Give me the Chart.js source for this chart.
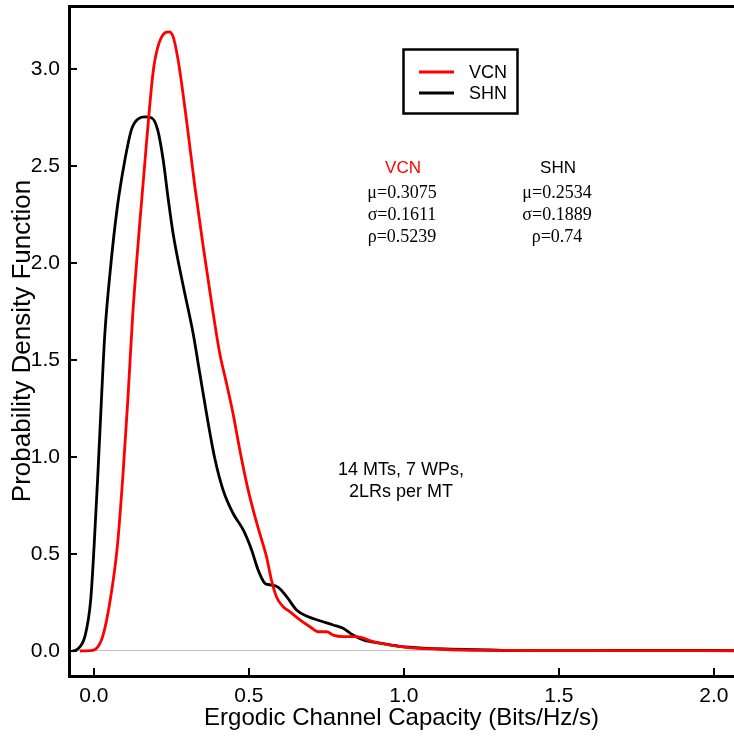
<!DOCTYPE html>
<html>
<head>
<meta charset="utf-8">
<script src="https://cdn.jsdelivr.net/npm/chart.js@4.4.1/dist/chart.umd.min.js"></script>
<style>
  html, body { margin: 0; padding: 0; background: #fff; }
  #chart { display: block; }
</style>
</head>
<body>
<canvas id="chart" width="734" height="738"></canvas>
<script>
const seriesNames = ['VCN', 'SHN'];
const seriesColors = ['#ff0000', '#000000'];

// VCN curve
const vcnX = [-0.045, -0.013, 0.006, 0.029, 0.053, 0.076, 0.094, 0.110, 0.125, 0.148, 0.170, 0.191, 0.206, 0.229, 0.243, 0.256, 0.272, 0.299, 0.326, 0.353, 0.380, 0.406, 0.428, 0.449, 0.471, 0.493, 0.514, 0.535, 0.557, 0.573, 0.589, 0.611, 0.632, 0.665, 0.697, 0.724, 0.751, 0.772, 0.804, 0.847, 0.901, 1.009, 1.116, 1.245, 1.47, 1.75, 2.07];
const vcnY = [0, 0.002, 0.010, 0.077, 0.263, 0.541, 0.907, 1.300, 1.720, 2.200, 2.620, 2.980, 3.110, 3.186, 3.192, 3.166, 3.046, 2.737, 2.393, 2.084, 1.794, 1.536, 1.380, 1.225, 1.036, 0.864, 0.727, 0.607, 0.486, 0.366, 0.280, 0.228, 0.203, 0.160, 0.125, 0.099, 0.099, 0.082, 0.074, 0.074, 0.048, 0.019, 0.009, 0.003, 0.002, 0.002, 0.001];

// SHN curve
const shnX = [-0.068, -0.052, -0.028, -0.010, 0.001, 0.013, 0.024, 0.035, 0.053, 0.076, 0.099, 0.122, 0.145, 0.165, 0.187, 0.206, 0.224, 0.240, 0.256, 0.288, 0.320, 0.342, 0.364, 0.390, 0.417, 0.449, 0.482, 0.509, 0.530, 0.552, 0.573, 0.595, 0.622, 0.654, 0.686, 0.729, 0.772, 0.804, 0.836, 0.869, 0.923, 0.987, 1.062, 1.150, 1.277, 1.35, 1.6, 1.8, 2.07];
const shnY = [0, 0.010, 0.079, 0.263, 0.541, 0.907, 1.275, 1.620, 1.960, 2.290, 2.520, 2.690, 2.745, 2.753, 2.748, 2.686, 2.530, 2.330, 2.150, 1.885, 1.640, 1.430, 1.220, 0.995, 0.830, 0.710, 0.624, 0.521, 0.418, 0.349, 0.340, 0.328, 0.280, 0.211, 0.180, 0.156, 0.134, 0.117, 0.082, 0.057, 0.040, 0.024, 0.015, 0.010, 0.005, 0.002, 0.002, 0.003, 0.002];

const xTicks = [0, 0.5, 1.0, 1.5, 2.0];
const yTicks = [0, 0.5, 1.0, 1.5, 2.0, 2.5, 3.0];

const statNames = ['μ', 'σ', 'ρ'];
const vcnStats = ['0.3075', '0.1611', '0.5239'];
const shnStats = ['0.2534', '0.1889', '0.74'];
const noteLines = ['14 MTs, 7 WPs,', '2LRs per MT'];

const SANS = "'Liberation Sans', Arial, sans-serif";
const SERIF = "'Liberation Serif', 'Times New Roman', serif";

Chart.defaults.font.family = SANS;
Chart.defaults.color = '#000';

// tick marks pointing into the plot
const innerTicks = {
  id: 'innerTicks',
  afterDraw(chart) {
    const { ctx, chartArea: a, scales: { x, y } } = chart;
    ctx.save();
    ctx.strokeStyle = '#000';
    ctx.lineWidth = 2;
    ctx.beginPath();
    y.ticks.forEach(t => {
      const py = Math.round(y.getPixelForValue(t.value));
      ctx.moveTo(a.left, py);
      ctx.lineTo(a.left + 8, py);
    });
    x.ticks.forEach(t => {
      const px = Math.round(x.getPixelForValue(t.value));
      ctx.moveTo(px, a.bottom);
      ctx.lineTo(px, a.bottom - 8);
    });
    ctx.stroke();
    ctx.restore();
  }
};

// boxed legend and the text notes inside the plot
const notes = {
  id: 'notes',
  afterDraw(chart) {
    const ctx = chart.ctx;
    ctx.save();

    ctx.strokeStyle = '#000';
    ctx.lineWidth = 2.5;
    ctx.strokeRect(403.5, 49.5, 114, 64);
    chart.data.datasets.forEach((ds, i) => {
      const yy = 72 + i * 21;
      ctx.strokeStyle = ds.borderColor;
      ctx.lineWidth = 3;
      ctx.beginPath();
      ctx.moveTo(419, yy);
      ctx.lineTo(454, yy);
      ctx.stroke();
      ctx.fillStyle = '#000';
      ctx.font = '18px ' + SANS;
      ctx.textAlign = 'left';
      ctx.textBaseline = 'middle';
      ctx.fillText(ds.label, 469, yy + 1);
    });

    ctx.textAlign = 'center';
    ctx.textBaseline = 'middle';
    const cols = [
      { cx: 402, name: seriesNames[0], color: seriesColors[0], vals: vcnStats },
      { cx: 557, name: seriesNames[1], color: seriesColors[1], vals: shnStats }
    ];
    cols.forEach(c => {
      ctx.fillStyle = c.color;
      ctx.font = '17px ' + SANS;
      ctx.fillText(c.name, c.cx + 1, 168);
      ctx.fillStyle = '#000';
      ctx.font = '18px ' + SERIF;
      c.vals.forEach((v, i) => {
        ctx.fillText(statNames[i] + '=' + v, c.cx, 193 + i * 22);
      });
    });

    ctx.font = '18px ' + SANS;
    noteLines.forEach((t, i) => ctx.fillText(t, 401, 470 + i * 22));
    ctx.restore();
  }
};

function noPad(s) {
  s.paddingTop = 0;
  s.paddingBottom = 0;
  s.paddingLeft = 0;
  s.paddingRight = 0;
}

new Chart(document.getElementById('chart'), {
  type: 'line',
  data: {
    datasets: [
      { label: seriesNames[0], data: vcnX.map((x, i) => ({ x, y: vcnY[i] })), borderColor: seriesColors[0] },
      { label: seriesNames[1], data: shnX.map((x, i) => ({ x, y: shnY[i] })), borderColor: seriesColors[1] }
    ]
  },
  options: {
    responsive: false,
    animation: false,
    layout: { padding: 0 },
    elements: {
      point: { radius: 0 },
      line: { borderWidth: 2.8, cubicInterpolationMode: 'monotone', fill: false }
    },
    plugins: { legend: { display: false }, tooltip: { enabled: false } },
    scales: {
      x: {
        type: 'linear', position: 'bottom', min: -0.08, max: 2.065,
        afterBuildTicks: s => { s.ticks = xTicks.map(v => ({ value: v })); },
        afterFit: s => { s.height = 62; noPad(s); },
        grid: { display: false, drawTicks: false },
        border: { display: true, color: '#000', width: 3 },
        ticks: { font: { size: 21 }, color: '#000', padding: 8, maxRotation: 0, callback: v => v.toFixed(1) },
        title: { display: true, text: 'Ergodic Channel Capacity (Bits/Hz/s)', font: { size: 24 }, color: '#000', padding: { top: 0, bottom: 5 } }
      },
      xTop: {
        type: 'linear', position: 'top', min: -0.08, max: 2.065,
        afterFit: s => { s.height = 6; noPad(s); },
        ticks: { display: false },
        grid: { display: false, drawTicks: false },
        border: { display: true, color: '#000', width: 3 }
      },
      y: {
        type: 'linear', position: 'left', min: -0.129, max: 3.325,
        afterBuildTicks: s => { s.ticks = yTicks.map(v => ({ value: v })); },
        afterFit: s => { s.width = 69; noPad(s); },
        grid: {
          drawTicks: false, lineWidth: 1,
          color: c => (c.tick && c.tick.value === 0 ? '#c4c4c4' : 'rgba(0,0,0,0)')
        },
        border: { display: true, color: '#000', width: 3 },
        ticks: { font: { size: 21 }, color: '#000', padding: 9, callback: v => v.toFixed(1) },
        title: { display: true, text: 'Probability Density Function', font: { size: 26 }, color: '#000', padding: { top: 7, bottom: 0 } }
      }
    }
  },
  plugins: [innerTicks, notes]
});
</script>
</body>
</html>
